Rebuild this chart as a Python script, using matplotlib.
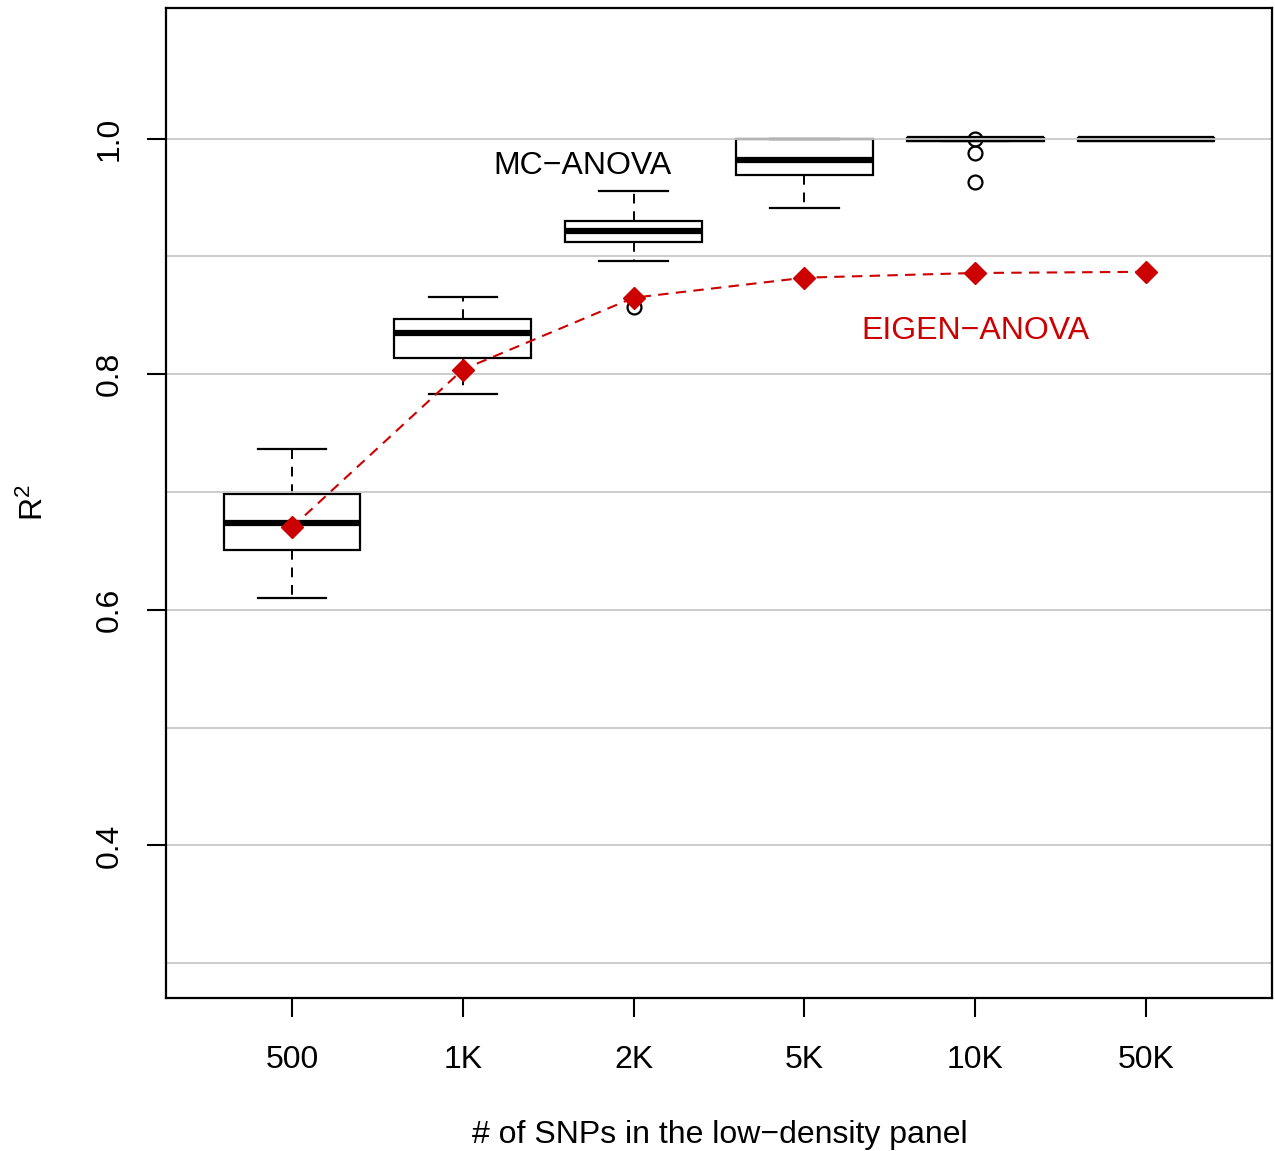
import matplotlib
matplotlib.use("Agg")
import matplotlib.pyplot as plt

plt.rcParams['font.family'] = ['Liberation Sans', 'DejaVu Sans']
plt.rcParams['mathtext.fontset'] = 'custom'
plt.rcParams['mathtext.rm'] = 'Liberation Sans'
plt.rcParams['mathtext.it'] = 'Liberation Sans'

# panel sizes and MC-ANOVA box summaries
panels = ["500", "1K", "2K", "5K", "10K", "50K"]
mc_whislo = [0.610, 0.783, 0.896, 0.941, 0.998, 0.999]
mc_q1 = [0.651, 0.814, 0.912, 0.969, 0.998, 0.998]
mc_med = [0.674, 0.835, 0.922, 0.982, 1.000, 1.000]
mc_q3 = [0.698, 0.847, 0.930, 1.000, 1.001, 1.001]
mc_whishi = [0.737, 0.866, 0.956, 1.000, 1.001, 1.001]
mc_fliers = [[], [], [0.857], [], [1.000, 0.988, 0.963], []]

# EIGEN-ANOVA values
eigen = [0.670, 0.804, 0.865, 0.882, 0.886, 0.887]

red = "#CC0000"

fig = plt.figure(figsize=(12.75, 11.51), dpi=100)
ax = fig.add_axes((0.1302, 0.1329, 0.8674, 0.8602))

positions = list(range(1, len(panels) + 1))

# grid lines are drawn over the boxes, under the red line
for y in [0.3, 0.4, 0.5, 0.6, 0.7, 0.8, 0.9, 1.0]:
    ax.axhline(y, color="#c8c8c8", lw=1.3, zorder=2.5)

stats = []
for i in range(len(panels)):
    stats.append(dict(med=mc_med[i], q1=mc_q1[i], q3=mc_q3[i],
                      whislo=mc_whislo[i], whishi=mc_whishi[i],
                      fliers=mc_fliers[i]))

ax.bxp(stats, positions=positions, widths=0.8, patch_artist=True,
       boxprops=dict(facecolor="white", edgecolor="black", lw=1.6),
       medianprops=dict(color="black", lw=4.5, solid_capstyle="butt"),
       whiskerprops=dict(color="black", lw=1.4, linestyle=(0, (5, 4))),
       capprops=dict(color="black", lw=1.6),
       capwidths=0.4,
       flierprops=dict(marker="o", markerfacecolor="none", markeredgecolor="black",
                       markersize=10, markeredgewidth=1.6),
       manage_ticks=False, zorder=2)

ax.plot(positions, eigen, color=red, lw=1.5, linestyle=(0, (5, 3.5)),
        marker="D", markersize=11, markerfacecolor=red, markeredgecolor=red, zorder=3)

ax.text(2.70, 0.977, "MC\u2212ANOVA", fontsize=23, ha="center", va="center")
ax.text(5.0, 0.837, "EIGEN\u2212ANOVA", fontsize=23, ha="center", va="center", color=red)

ax.set_xlim(0.263, 6.737)
ax.set_ylim(0.2705, 1.111)
ax.set_xticks(positions)
ax.set_xticklabels(panels)
ax.set_yticks([0.4, 0.6, 0.8, 1.0])
ax.set_yticklabels(["0.4", "0.6", "0.8", "1.0"], rotation=90, va="center")
ax.tick_params(axis="both", length=14, width=1.5, labelsize=23)
ax.tick_params(axis="x", pad=20)
ax.tick_params(axis="y", pad=16)

for s in ax.spines.values():
    s.set_linewidth(1.6)

fig.text(0.5647, 0.0135, "# of SNPs in the low\u2212density panel", fontsize=23,
         ha="center", va="center")
fig.text(0.027, 0.563, "R$^2$", fontsize=23, rotation=90, ha="center", va="center")

fig.savefig("out.png", dpi=100)
